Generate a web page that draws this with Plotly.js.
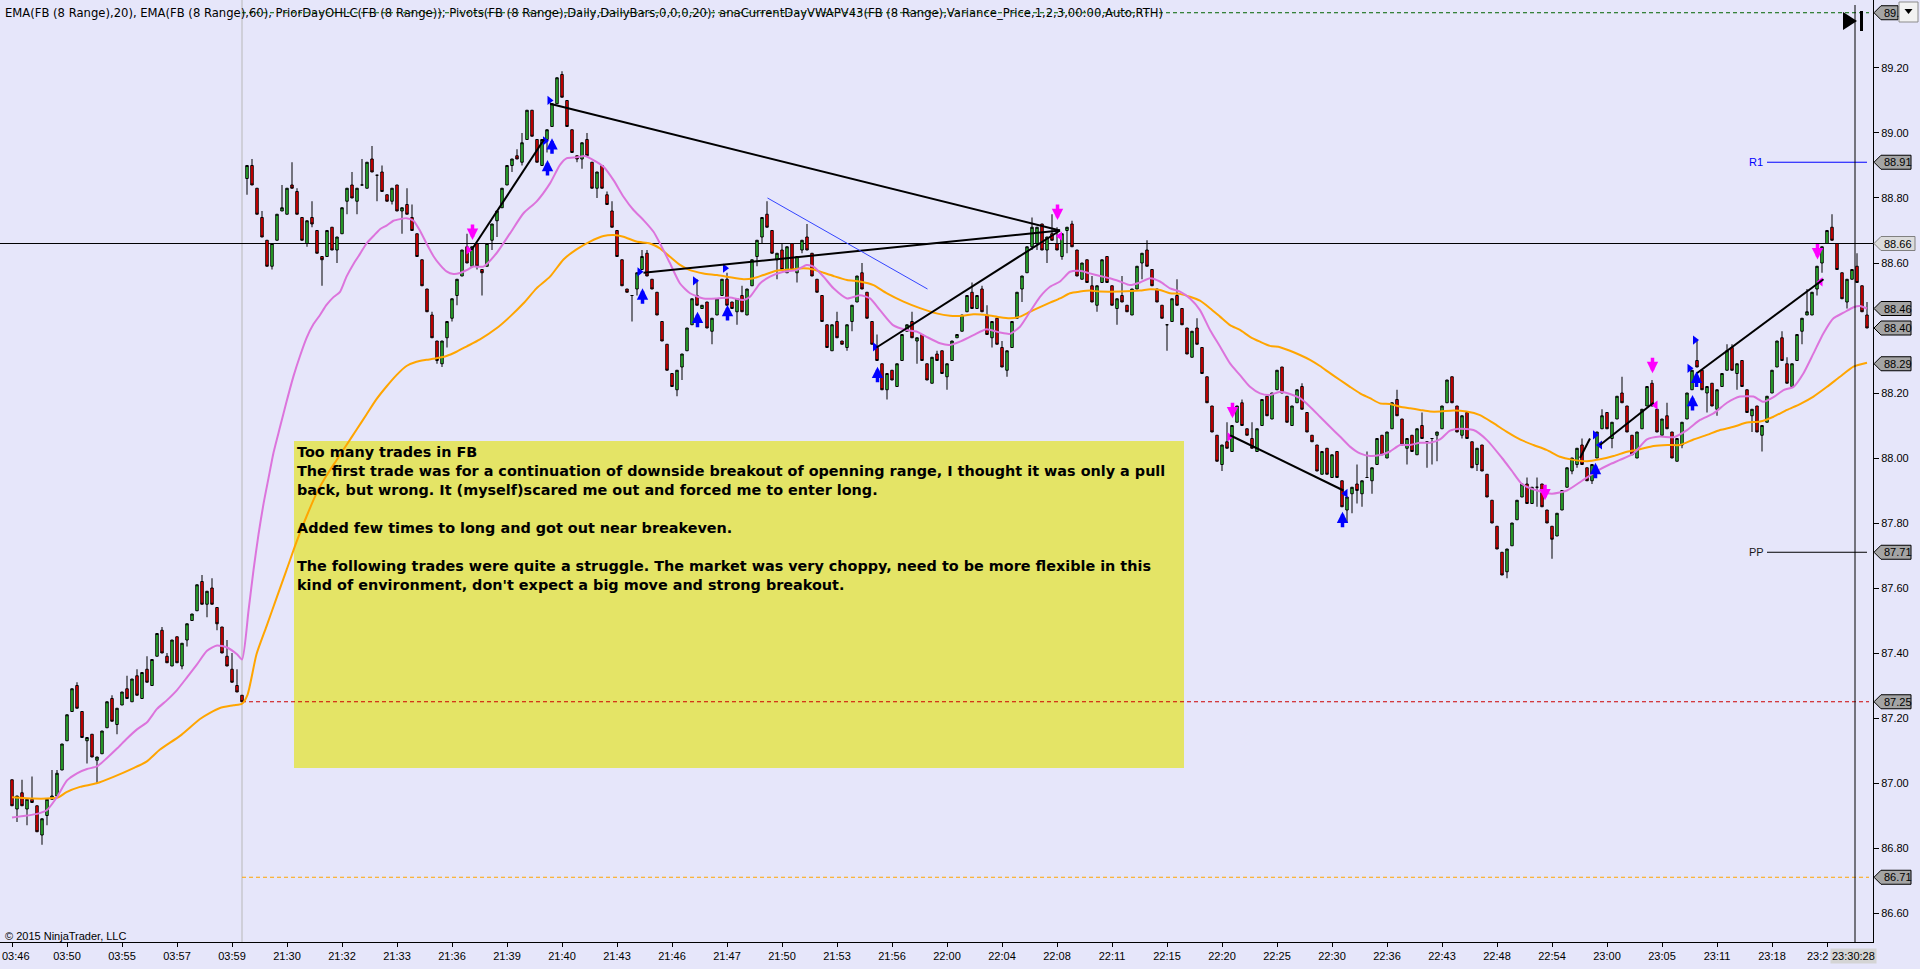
<!DOCTYPE html>
<html><head><meta charset="utf-8">
<script src="https://cdn.plot.ly/plotly-3.0.1.min.js"></script>
<style>html,body{margin:0;padding:0;background:#E6E6FA;}#chart{width:1920px;height:969px;}</style>
</head><body><div id="chart"></div>
<script>
// ---------- DATA ----------
const tickLabels = ['03:46','03:50','03:55','03:57','03:59','21:30','21:32','21:33','21:36','21:39','21:40','21:43','21:46','21:47','21:50','21:53','21:56','22:00','22:04','22:08','22:11','22:15','22:20','22:25','22:30','22:36','22:43','22:48','22:54','23:00','23:05','23:11','23:18','23:2'];
const barsPerTick = 11;

const openP = [
87.01,86.92,86.97,86.92,86.95,86.93,86.84,86.90,86.95,86.96,
87.04,87.13,87.22,87.30,87.22,87.13,87.15,87.07,87.09,87.17,
87.26,87.18,87.24,87.29,87.25,87.33,87.26,87.35,87.30,87.39,
87.47,87.39,87.36,87.45,87.36,87.44,87.50,87.53,87.62,87.55,
87.60,87.54,87.48,87.39,87.35,87.30,87.27,88.86,88.90,88.83,
88.74,88.67,88.59,88.67,88.76,88.75,88.84,88.82,88.74,88.66,
88.74,88.70,88.62,88.62,88.71,88.64,88.69,88.79,88.84,88.79,
88.84,88.83,88.92,88.87,88.88,88.81,88.79,88.84,88.76,88.78,
88.74,88.69,88.61,88.52,88.44,88.36,88.29,88.37,88.43,88.50,
88.56,88.65,88.59,88.66,88.58,88.59,88.67,88.73,88.77,88.84,
88.90,88.93,88.91,88.98,89.07,88.98,88.90,88.98,89.02,89.09,
89.18,89.10,89.01,88.93,88.92,88.98,88.91,88.83,88.90,88.81,
88.76,88.70,88.61,88.52,88.50,88.52,88.58,88.63,88.55,88.51,
88.42,88.35,88.26,88.21,88.28,88.33,88.41,88.50,88.46,88.48,
88.39,88.44,88.50,88.55,88.48,88.45,88.50,88.44,88.53,88.62,
88.68,88.75,88.70,88.61,88.64,88.57,88.66,88.57,88.64,88.68,
88.63,88.55,88.50,88.41,88.33,88.42,88.36,88.34,88.42,88.48,
88.57,88.51,88.42,88.34,88.29,88.21,88.27,88.22,88.30,88.39,
88.42,88.36,88.38,88.29,88.23,88.32,88.33,88.25,88.30,88.37,
88.39,88.45,88.51,88.46,88.52,88.44,88.37,88.43,88.34,88.27,
88.34,88.43,88.52,88.57,88.65,88.66,88.72,88.64,88.69,88.66,
88.62,88.70,88.72,88.64,88.55,88.61,88.53,88.47,88.54,88.62,
88.53,88.46,88.50,88.47,88.44,88.52,88.60,88.64,88.58,88.52,
88.47,88.41,88.42,88.50,88.46,88.40,88.31,88.40,88.34,88.25,
88.16,88.07,87.98,88.05,88.02,88.11,88.17,88.09,88.06,88.02,
88.10,88.19,88.12,88.21,88.28,88.19,88.10,88.17,88.22,88.14,
88.07,88.04,87.95,88.03,87.94,88.02,87.93,87.84,87.89,87.92,
87.89,87.94,87.93,87.98,88.07,88.00,88.09,88.18,88.12,88.03,
88.07,88.01,88.10,88.05,88.06,88.07,88.09,88.17,88.25,88.16,
88.07,88.14,88.05,87.98,88.04,87.95,87.87,87.79,87.71,87.65,
87.73,87.81,87.88,87.92,87.86,87.91,87.92,87.84,87.79,87.76,
87.84,87.91,87.96,87.98,88.04,87.97,87.93,88.00,88.09,88.14,
88.06,88.12,88.20,88.16,88.07,88.00,88.09,88.16,88.23,88.15,
88.07,88.13,88.08,87.99,88.04,88.12,88.21,88.30,88.27,88.20,
88.23,88.15,88.22,88.27,88.34,88.26,88.30,88.21,88.13,88.16,
88.07,88.11,88.20,88.28,88.37,88.29,88.22,88.30,88.39,88.44,
88.44,88.52,88.60,88.66,88.71,88.66,88.57,88.48,88.55,88.59,
88.53,88.44];
const highP = [
87.01,86.96,87.01,86.95,87.02,86.93,86.89,86.95,87.04,87.04,
87.12,87.21,87.29,87.31,87.22,87.14,87.15,87.08,87.16,87.25,
87.27,87.23,87.28,87.33,87.32,87.35,87.34,87.39,87.38,87.46,
87.48,87.40,87.44,87.45,87.43,87.49,87.52,87.61,87.64,87.59,
87.63,87.54,87.48,87.44,87.40,87.35,87.27,88.90,88.92,88.83,
88.76,88.67,88.66,88.75,88.84,88.83,88.91,88.83,88.74,88.73,
88.79,88.70,88.62,88.70,88.71,88.68,88.77,88.83,88.88,88.83,
88.92,88.91,88.96,88.87,88.90,88.81,88.83,88.84,88.77,88.83,
88.78,88.69,88.61,88.52,88.45,88.36,88.36,88.42,88.49,88.55,
88.64,88.69,88.65,88.66,88.58,88.66,88.72,88.76,88.83,88.90,
88.92,88.95,89.00,89.07,89.07,88.98,88.98,89.01,89.09,89.17,
89.19,89.10,89.01,88.93,88.97,89.00,88.91,88.88,88.90,88.82,
88.79,88.70,88.61,88.52,88.50,88.57,88.64,88.64,88.55,88.51,
88.42,88.35,88.26,88.27,88.32,88.40,88.49,88.55,88.47,88.48,
88.43,88.49,88.55,88.57,88.48,88.49,88.53,88.52,88.61,88.67,
88.74,88.79,88.70,88.63,88.66,88.65,88.66,88.62,88.67,88.72,
88.63,88.55,88.50,88.41,88.41,88.45,88.36,88.41,88.47,88.56,
88.60,88.51,88.42,88.38,88.29,88.26,88.27,88.29,88.38,88.41,
88.45,88.37,88.38,88.29,88.31,88.33,88.33,88.29,88.36,88.38,
88.44,88.50,88.54,88.50,88.53,88.47,88.42,88.43,88.36,88.33,
88.42,88.51,88.56,88.65,88.74,88.71,88.72,88.68,88.75,88.71,
88.69,88.71,88.73,88.64,88.60,88.61,88.56,88.53,88.61,88.62,
88.53,88.49,88.56,88.47,88.52,88.59,88.63,88.67,88.58,88.52,
88.47,88.41,88.49,88.55,88.46,88.40,88.39,88.43,88.34,88.25,
88.16,88.07,88.04,88.11,88.10,88.16,88.18,88.09,88.11,88.09,
88.18,88.19,88.20,88.27,88.28,88.19,88.16,88.21,88.23,88.14,
88.07,88.04,88.02,88.03,88.01,88.02,87.93,87.88,87.91,87.98,
87.93,88.02,87.97,88.06,88.07,88.08,88.17,88.21,88.12,88.06,
88.07,88.09,88.14,88.05,88.06,88.08,88.16,88.24,88.25,88.16,
88.13,88.14,88.05,88.03,88.04,87.95,87.87,87.79,87.71,87.72,
87.80,87.87,87.92,87.94,87.91,87.94,87.92,87.84,87.79,87.83,
87.90,87.97,88.00,88.03,88.06,87.97,87.98,88.08,88.15,88.14,
88.11,88.19,88.25,88.16,88.07,88.08,88.15,88.22,88.24,88.15,
88.12,88.17,88.08,88.06,88.11,88.20,88.27,88.36,88.27,88.22,
88.23,88.21,88.26,88.35,88.35,88.29,88.30,88.21,88.15,88.16,
88.10,88.19,88.27,88.36,88.39,88.31,88.29,88.38,88.43,88.52,
88.51,88.59,88.65,88.70,88.75,88.66,88.57,88.55,88.58,88.63,
88.53,88.48];
const lowP = [
86.93,86.88,86.93,86.87,86.94,86.85,86.81,86.87,86.95,86.96,
87.04,87.13,87.22,87.23,87.14,87.06,87.08,87.00,87.09,87.17,
87.19,87.15,87.24,87.26,87.25,87.27,87.26,87.31,87.30,87.39,
87.40,87.37,87.36,87.37,87.35,87.42,87.50,87.53,87.55,87.51,
87.55,87.47,87.40,87.36,87.31,87.28,87.25,88.81,88.84,88.75,
88.68,88.59,88.58,88.67,88.76,88.75,88.83,88.75,88.67,88.65,
88.71,88.63,88.53,88.62,88.64,88.60,88.69,88.75,88.80,88.75,
88.84,88.83,88.88,88.79,88.82,88.79,88.78,88.76,88.69,88.75,
88.70,88.62,88.53,88.45,88.37,88.29,88.28,88.34,88.42,88.47,
88.56,88.60,88.59,88.58,88.50,88.59,88.64,88.68,88.77,88.84,
88.88,88.92,88.90,88.98,88.99,88.91,88.90,88.94,89.02,89.09,
89.11,89.02,88.94,88.91,88.89,88.93,88.83,88.80,88.83,88.78,
88.71,88.62,88.53,88.51,88.42,88.50,88.58,88.56,88.52,88.44,
88.36,88.27,88.22,88.19,88.24,88.33,88.41,88.47,88.46,88.40,
88.35,88.44,88.50,88.47,88.46,88.41,88.45,88.44,88.53,88.59,
88.66,88.71,88.63,88.55,88.58,88.57,88.58,88.54,88.63,88.64,
88.56,88.51,88.42,88.34,88.33,88.37,88.35,88.33,88.39,88.48,
88.52,88.43,88.35,88.30,88.21,88.18,88.24,88.22,88.30,88.39,
88.37,88.29,88.30,88.24,88.23,88.30,88.26,88.21,88.30,88.37,
88.39,88.45,88.46,88.46,88.45,88.38,88.34,88.35,88.28,88.25,
88.34,88.43,88.48,88.57,88.64,88.64,88.64,88.60,88.67,88.64,
88.61,88.63,88.65,88.56,88.55,88.54,88.48,88.45,88.54,88.54,
88.47,88.41,88.48,88.45,88.44,88.52,88.55,88.59,88.53,88.48,
88.43,88.33,88.42,88.47,88.41,88.32,88.31,88.35,88.26,88.17,
88.08,87.99,87.96,88.03,88.02,88.11,88.10,88.07,88.03,88.02,
88.10,88.13,88.12,88.21,88.20,88.11,88.10,88.17,88.15,88.08,
88.05,87.96,87.95,87.95,87.94,87.94,87.85,87.80,87.83,87.86,
87.85,87.94,87.89,87.98,88.01,88.00,88.09,88.13,88.04,87.98,
88.02,88.01,88.06,87.97,87.98,87.99,88.09,88.17,88.17,88.08,
88.06,88.06,87.97,87.96,87.96,87.88,87.80,87.72,87.64,87.63,
87.73,87.81,87.88,87.86,87.86,87.85,87.85,87.80,87.69,87.76,
87.84,87.91,87.95,87.97,87.98,87.93,87.92,88.00,88.09,88.09,
88.03,88.12,88.17,88.08,88.01,88.00,88.09,88.16,88.16,88.08,
88.07,88.09,88.00,87.99,88.03,88.12,88.21,88.28,88.21,88.14,
88.16,88.13,88.22,88.27,88.27,88.21,88.22,88.14,88.08,88.08,
88.02,88.11,88.20,88.28,88.30,88.23,88.22,88.30,88.35,88.44,
88.44,88.50,88.57,88.66,88.67,88.58,88.49,88.46,88.55,88.54,
88.45,88.40];
const closeP = [
86.93,86.96,86.93,86.95,86.94,86.85,86.89,86.95,86.96,87.03,
87.12,87.21,87.29,87.23,87.14,87.14,87.08,87.08,87.16,87.25,
87.19,87.23,87.28,87.26,87.32,87.27,87.34,87.31,87.38,87.46,
87.40,87.37,87.44,87.37,87.43,87.49,87.52,87.61,87.55,87.59,
87.55,87.49,87.40,87.36,87.31,87.28,87.25,88.90,88.84,88.75,
88.68,88.59,88.66,88.75,88.77,88.83,88.83,88.75,88.67,88.73,
88.72,88.63,88.61,88.70,88.64,88.68,88.77,88.83,88.80,88.83,
88.84,88.91,88.88,88.87,88.82,88.79,88.83,88.76,88.77,88.75,
88.70,88.62,88.53,88.45,88.37,88.30,88.36,88.42,88.49,88.55,
88.64,88.60,88.65,88.59,88.57,88.66,88.72,88.76,88.83,88.90,
88.92,88.92,88.97,89.07,88.99,88.91,88.98,89.01,89.09,89.17,
89.11,89.02,88.94,88.92,88.97,88.93,88.83,88.88,88.83,88.78,
88.71,88.62,88.53,88.51,88.50,88.57,88.62,88.56,88.52,88.44,
88.36,88.27,88.22,88.27,88.32,88.40,88.49,88.47,88.47,88.40,
88.43,88.49,88.55,88.47,88.46,88.49,88.45,88.52,88.61,88.67,
88.74,88.71,88.63,88.63,88.58,88.65,88.58,88.62,88.67,88.64,
88.56,88.51,88.42,88.34,88.41,88.37,88.35,88.41,88.47,88.56,
88.52,88.43,88.35,88.30,88.21,88.26,88.24,88.29,88.38,88.41,
88.37,88.37,88.30,88.24,88.31,88.30,88.26,88.29,88.36,88.38,
88.44,88.50,88.46,88.50,88.45,88.38,88.42,88.35,88.28,88.33,
88.42,88.51,88.56,88.65,88.71,88.71,88.64,88.68,88.67,88.64,
88.69,88.71,88.65,88.56,88.60,88.54,88.48,88.53,88.61,88.54,
88.47,88.49,88.48,88.45,88.52,88.59,88.63,88.59,88.53,88.48,
88.43,88.41,88.49,88.47,88.41,88.32,88.39,88.35,88.26,88.17,
88.08,87.99,88.04,88.03,88.10,88.16,88.10,88.07,88.03,88.09,
88.18,88.13,88.20,88.27,88.20,88.11,88.16,88.21,88.15,88.08,
88.05,87.96,88.02,87.95,88.01,87.94,87.85,87.88,87.91,87.90,
87.93,87.94,87.97,88.06,88.01,88.08,88.17,88.13,88.04,88.06,
88.02,88.09,88.06,88.05,88.06,88.08,88.16,88.24,88.17,88.08,
88.13,88.06,87.97,88.03,87.96,87.88,87.80,87.72,87.64,87.72,
87.80,87.87,87.92,87.86,87.91,87.91,87.85,87.80,87.75,87.83,
87.90,87.97,88.00,88.03,87.98,87.93,87.98,88.08,88.13,88.09,
88.11,88.19,88.17,88.08,88.01,88.08,88.15,88.22,88.16,88.08,
88.12,88.09,88.00,88.06,88.11,88.20,88.27,88.28,88.21,88.22,
88.16,88.21,88.26,88.33,88.27,88.29,88.22,88.14,88.15,88.08,
88.10,88.19,88.27,88.36,88.30,88.23,88.29,88.38,88.43,88.45,
88.51,88.59,88.65,88.70,88.67,88.58,88.49,88.55,88.58,88.54,
88.45,88.40];

// EMA(20): bar position / value
const emaFastK = [0,5,7,9,11,13,15,17,19,21,23,25,27,29,31,33,35,37,39,41,43,45,46,47.3,48.3,49.3,50.3,51.3,52.3,53.6,54.9,56.3,57.6,58.9,60.3,61.6,62.9,64.3,65.6,66.9,68.3,69.6,70.9,72.3,73.6,74.9,76.3,77.6,78.9,80.3,81.6,82.9,84.3,85.6,86.9,88.3,89.6,90.9,92.3,94.3,96.9,99.6,102.3,104.9,107.6,109.6,110.9,112.9,114.6,116.2,118.3,120.3,122.3,124.3,126.3,128.3,129.6,131.6,133.6,135.6,138.3,141,143.6,146.3,147.6,149.6,151.6,154.3,156.9,158.9,160.3,162.3,164.3,167,169.6,171.6,173.6,176.2,178.9,180.9,182.9,185.6,187.6,189.6,192.3,194.9,197.6,199.6,201.6,203.6,205.6,207.6,209.6,211.6,213.6,215.6,217.6,219.6,221.6,223.6,225.6,227.6,229.6,231.6,233.6,235.6,237.6,239.6,241.6,243.6,245.6,247.6,249.6,251.6,253.6,255.6,257.6,259.6,261.6,263.6,265.6,267.6,269.6,271.6,273.6,275.6,277.6,279.6,281.6,283.6,285.6,287.6,289.6,292.3,295,298,300,302,305,308,311,314,317,319.5,321.6,324.3,327,329.6,332.3,335,337.6,340.3,343,345.6,348.3,350.3,352.3,354.3,356.3,358.3,360.3,362.3,364.3,366.3,368.3,369.6,371];
const emaFastV = [86.894,86.905,86.917,86.957,87.008,87.030,87.043,87.051,87.077,87.106,87.137,87.165,87.187,87.228,87.255,87.286,87.325,87.365,87.407,87.423,87.417,87.396,87.380,87.530,87.655,87.765,87.859,87.938,88.016,88.095,88.173,88.252,88.314,88.369,88.412,88.440,88.471,88.495,88.511,88.558,88.597,88.628,88.660,88.683,88.704,88.715,88.730,88.735,88.738,88.730,88.699,88.660,88.621,88.594,88.574,88.566,88.569,88.578,88.589,88.589,88.630,88.691,88.753,88.789,88.845,88.902,88.922,88.925,88.929,88.917,88.896,88.855,88.804,88.763,88.732,88.696,88.660,88.599,88.537,88.507,88.491,88.491,88.494,88.486,88.496,88.537,88.558,88.573,88.578,88.594,88.589,88.558,88.522,88.491,88.501,88.491,88.455,88.409,88.394,88.389,88.373,88.353,88.348,88.358,88.378,88.396,88.386,88.382,88.404,88.450,88.496,88.527,88.543,88.573,88.576,88.568,88.560,88.553,88.543,88.532,88.540,88.553,88.543,88.522,88.512,88.491,88.455,88.394,88.343,88.291,88.255,88.219,88.199,88.194,88.204,88.197,88.184,88.158,88.127,88.096,88.066,88.035,88.014,88.006,88.009,88.020,88.040,88.040,88.047,88.047,88.057,88.084,88.090,88.086,88.055,88.000,87.960,87.920,87.900,87.890,87.900,87.930,87.960,87.980,87.994,88.014,88.057,88.066,88.064,88.086,88.117,88.137,88.170,88.189,88.189,88.173,88.187,88.209,88.219,88.261,88.322,88.384,88.430,88.447,88.464,88.468,88.460];
// EMA(60)
const emaSlowK = [0,4.3,6.9,9.3,10.9,13.6,16.9,20.3,24.3,26.9,29.6,33.6,37.6,39.6,41.6,44.3,46,47.1,48.9,50.9,52.9,54.9,56.9,58.9,60.9,62.9,64.9,66.9,68.9,70.9,72.9,74.9,76.9,78.9,80.9,82.9,84.9,86.9,88.9,90.9,93.6,96.9,99.6,102.3,104.9,107.6,110.3,112.9,115.6,118.3,120.3,122.3,124.9,127.6,129.6,131.6,133.6,135.6,138.3,141,143.6,146.3,148.3,150.3,152.9,155.6,158.3,160.3,162.3,164.3,167,169.6,172.3,174.9,178.3,181.6,184.9,187.6,190.2,192.3,194.9,197.6,199.6,201.6,203.6,205.6,207.6,209.6,211.6,213.6,215.6,217.6,221.6,225.6,227.6,229.6,231.6,233.6,235.6,237.6,239.6,241.6,243.6,245.6,247.6,249.6,251.6,253.6,255.6,257.6,259.6,261.6,263.6,265.6,267.6,269.6,271.6,273.6,275.6,277.6,279.6,281.6,283.6,285.6,288.3,290.9,293.6,296.3,298.9,301.6,304.3,306.9,309.6,312,315,317.6,320.3,323,325.6,328.3,331.1,333.6,336.3,339,341.6,344.3,347,349.6,352.3,355,357.6,360.3,363,365.6,368.3,371];
const emaSlowV = [86.956,86.952,86.952,86.956,86.972,86.988,86.999,87.019,87.046,87.066,87.103,87.145,87.197,87.216,87.231,87.239,87.244,87.271,87.396,87.482,87.569,87.655,87.742,87.820,87.891,87.946,87.993,88.040,88.087,88.134,88.181,88.220,88.255,88.283,88.296,88.302,88.307,88.314,88.327,88.343,88.365,88.399,88.435,88.476,88.522,88.558,88.611,88.642,88.666,88.683,88.686,88.681,88.666,88.660,88.645,88.619,88.594,88.578,88.568,88.563,88.556,88.550,88.553,88.563,88.576,88.580,88.584,88.580,88.570,88.560,88.548,88.543,88.532,88.507,88.481,88.461,88.445,88.438,88.438,88.442,88.440,88.433,88.430,88.435,88.450,88.464,88.478,88.491,88.507,88.512,88.515,88.512,88.512,88.515,88.519,88.517,88.507,88.505,88.496,88.484,88.461,88.435,88.409,88.394,88.373,88.358,88.345,88.341,88.330,88.317,88.302,88.283,88.261,88.240,88.219,88.199,88.184,88.168,88.166,88.158,88.153,88.148,88.143,88.143,88.146,88.143,88.132,88.107,88.081,88.057,88.040,88.025,88.004,87.995,87.990,87.996,88.006,88.019,88.027,88.037,88.040,88.040,88.057,88.071,88.086,88.096,88.109,88.112,88.127,88.148,88.166,88.189,88.219,88.250,88.281,88.293];

// levels
const priorDayHigh = 89.37, priorDayLow = 86.71, priorDayClose = 87.25;
const pivotR1 = 88.91, pivotPP = 87.71;
const refLine = 88.66;
const sessionStartBar = 46;
const cursorBar = 368.6;
const levelEndBar = 371.4;
const pivotStartBar = 351;
const priceLabels = [89.37, 88.91, 88.66, 88.46, 88.40, 88.29, 87.71, 87.25, 86.71];
const priceLabelText = ['89.', '88.91', '88.66', '88.46', '88.40', '88.29', '87.71', '87.25', '86.71'];
const yTicks = [86.6,86.8,87.0,87.2,87.4,87.6,87.8,88.0,88.2,88.4,88.6,88.8,89.0,89.2];

// drawn trend lines [bar0, price0, bar1, price1]
const trendLines = [
  [91.9,88.64,106.4,88.98],
  [107.6,89.09,209.6,88.70],
  [126.3,88.57,209.6,88.70],
  [172.9,88.34,209.6,88.70],
  [243.6,88.07,266.3,87.90],
  [313.6,88.00,315.6,88.06],
  [317.6,88.04,328.3,88.17],
  [336.9,88.26,362.3,88.55]
];
const blueLine = [151.1,88.80,183.1,88.52];

// trade markers
const buyArrowK = [107.1,108,126.1,137.1,143.1,173.1,266.1,316.7,336.9,336.1];
const buyArrowP = [88.917,88.984,88.522,88.450,88.471,88.281,87.835,87.985,88.266,88.194];
const sellArrowK = [92.1,209.1,244.1,306.6,328.1,361.1];
const sellArrowP = [88.671,88.732,88.122,87.87,88.261,88.611];
const buyTriRK = [106.6,107.5,125.5,136.6,142.6,172.6,316.6,335.5,336.6];
const buyTriRP = [88.976,89.10,88.573,88.545,88.584,88.342,88.071,88.276,88.363];
const buyTriLK = [266.7,317.6];
const buyTriLP = [87.891,88.04];
const sellTriRK = [91.3,243.5];
const sellTriRP = [88.64,88.065];
const sellTriLK = [209.6,328.7,361.7];
const sellTriLP = [88.683,88.163,88.542];

const indicatorText = "EMA(FB (8 Range),20), EMA(FB (8 Range),60), PriorDayOHLC(FB (8 Range)); Pivots(FB (8 Range),Daily,DailyBars,0,0,0,20); anaCurrentDayVWAPV43(FB (8 Range),Variance_Price,1,2,3,00:00,Auto,RTH)";
const noteLines = [
  "Too many trades in FB",
  "The first trade was for a continuation of downside breakout of openning range, I thought it was only a pull",
  "back, but wrong. It (myself)scared me out and forced me to enter long.",
  "",
  "Added few times to long and got out near breakeven.",
  "",
  "The following trades were quite a struggle. The market was very choppy, need to be more flexible in this",
  "kind of environment, don't expect a big move and strong breakout."
];
const lastTimeLabel = "23:30:28";
const copyright = "\u00A9 2015 NinjaTrader, LLC";

// ---------- BUILD ----------
const W = 1873, H = 942;           // plot area in pixels
const px = x => x / W;
const py = y => 1 - y / H;
const idx = openP.map((_, i) => i);
const tickVals = tickLabels.map((_, i) => i * barsPerTick);
const lastTick = tickLabels.length - 1;
const axisTickText = tickLabels.map((t, i) => (i === lastTick || i === 0) ? '' : t);

const traces = [];
traces.push({
  type: 'candlestick', x: idx, open: openP, high: highP, low: lowP, close: closeP,
  increasing: {line: {color: '#000', width: 1}, fillcolor: '#33CC33'},
  decreasing: {line: {color: '#000', width: 1}, fillcolor: '#FF0000'},
  whiskerwidth: 0, hoverinfo: 'skip', showlegend: false
});
traces.push({type: 'scatter', mode: 'lines', x: emaSlowK, y: emaSlowV, line: {color: '#FFA500', width: 2, shape: 'spline', smoothing: 0.6}, hoverinfo: 'skip', showlegend: false});
traces.push({type: 'scatter', mode: 'lines', x: emaFastK, y: emaFastV, line: {color: '#DC74DC', width: 2, shape: 'spline', smoothing: 0.6}, hoverinfo: 'skip', showlegend: false});
function tri(k, p, sym, col) {
  return {type: 'scatter', mode: 'markers', x: k, y: p, marker: {symbol: sym, size: 8, color: col, line: {width: 0}}, hoverinfo: 'skip', showlegend: false, cliponaxis: false};
}
traces.push(tri(buyTriRK, buyTriRP, 'triangle-right', '#0000FF'));
traces.push(tri(buyTriLK, buyTriLP, 'triangle-left', '#0000FF'));
traces.push(tri(sellTriRK, sellTriRP, 'triangle-right', '#FF00FF'));
traces.push(tri(sellTriLK, sellTriLP, 'triangle-left', '#FF00FF'));

const shapes = [];
shapes.push({type: 'line', xref: 'x', yref: 'paper', x0: sessionStartBar, x1: sessionStartBar, y0: 0, y1: 1, line: {color: '#B8B8B8', width: 1}, layer: 'below'});
shapes.push({type: 'line', xref: 'paper', yref: 'y', x0: 0, x1: 1, y0: refLine, y1: refLine, line: {color: '#000', width: 1}, layer: 'below'});
shapes.push({type: 'line', xref: 'x', yref: 'y', x0: sessionStartBar, x1: levelEndBar, y0: priorDayHigh, y1: priorDayHigh, line: {color: '#006400', width: 1, dash: '4px,3px'}, layer: 'below'});
shapes.push({type: 'line', xref: 'x', yref: 'y', x0: sessionStartBar, x1: levelEndBar, y0: priorDayClose, y1: priorDayClose, line: {color: '#CC0000', width: 1, dash: '4px,3px'}, layer: 'below'});
shapes.push({type: 'line', xref: 'x', yref: 'y', x0: sessionStartBar, x1: levelEndBar, y0: priorDayLow, y1: priorDayLow, line: {color: '#FFA500', width: 1, dash: '4px,3px'}, layer: 'below'});
shapes.push({type: 'line', xref: 'x', yref: 'y', x0: pivotStartBar, x1: levelEndBar - 0.4, y0: pivotR1, y1: pivotR1, line: {color: '#0000FF', width: 1}, layer: 'below'});
shapes.push({type: 'line', xref: 'x', yref: 'y', x0: pivotStartBar, x1: levelEndBar - 0.4, y0: pivotPP, y1: pivotPP, line: {color: '#000', width: 1}, layer: 'below'});
shapes.push({type: 'rect', xref: 'paper', yref: 'paper', x0: px(294), x1: px(1184), y0: py(768), y1: py(441), fillcolor: '#E4E466', line: {width: 0}, layer: 'below'});
shapes.push({type: 'line', xref: 'x', yref: 'paper', x0: cursorBar, x1: cursorBar, y0: 0, y1: py(5), line: {color: '#000', width: 1}, layer: 'above'});
trendLines.forEach(t => shapes.push({type: 'line', xref: 'x', yref: 'y', x0: t[0], y0: t[1], x1: t[2], y1: t[3], line: {color: '#000', width: 2}, layer: 'above'}));
shapes.push({type: 'line', xref: 'x', yref: 'y', x0: blueLine[0], y0: blueLine[1], x1: blueLine[2], y1: blueLine[3], line: {color: '#3344FF', width: 1}, layer: 'above'});
const halfH = 7 / 325;
priceLabels.forEach(p => {
  const hi = (p === refLine);
  const xr = hi ? px(1915) : (p === priorDayHigh ? px(1898) : px(1911));
  const path = `M${px(1874)},${p} L${px(1881)},${p + halfH} L${xr},${p + halfH} L${xr},${p - halfH} L${px(1881)},${p - halfH} Z`;
  shapes.push({type: 'path', xref: 'paper', yref: 'y', path: path, fillcolor: hi ? '#DCDCDC' : '#A4A4A4', line: {color: hi ? '#808080' : '#000', width: 1}, layer: 'above'});
});
shapes.push({type: 'path', xref: 'paper', yref: 'paper', path: `M${px(1843)},${py(12)} L${px(1857)},${py(21)} L${px(1843)},${py(30)} Z`, fillcolor: '#000', line: {width: 0}});
shapes.push({type: 'rect', xref: 'paper', yref: 'paper', x0: px(1860), x1: px(1863), y0: py(31), y1: py(11), fillcolor: '#000', line: {width: 0}});
shapes.push({type: 'rect', xref: 'paper', yref: 'paper', x0: px(1899), x1: px(1918), y0: py(22), y1: py(2), fillcolor: '#F2F2F2', line: {color: '#8C8C8C', width: 1}});
shapes.push({type: 'path', xref: 'paper', yref: 'paper', path: `M${px(1904.5)},${py(9)} L${px(1912.5)},${py(9)} L${px(1908.5)},${py(14)} Z`, fillcolor: '#000', line: {width: 0}});

const ann = [];
const axFont = {family: 'Liberation Sans, Arial', size: 11, color: '#000'};
ann.push({xref: 'paper', yref: 'paper', x: px(3), y: py(13), xanchor: 'left', yanchor: 'middle', text: indicatorText, showarrow: false, font: {family: 'DejaVu Sans, Verdana', size: 11.6, color: '#000'}});
ann.push({xref: 'paper', yref: 'paper', x: px(3), y: py(936), xanchor: 'left', yanchor: 'middle', text: copyright, showarrow: false, font: axFont});
noteLines.forEach((t, i) => {
  if (!t) return;
  ann.push({xref: 'paper', yref: 'paper', x: px(295), y: py(452 + 19 * i), xanchor: 'left', yanchor: 'middle', text: '<b>' + t + '</b>', showarrow: false, font: {family: 'DejaVu Sans, Verdana', size: 14.4, color: '#000'}});
});
ann.push({xref: 'x', yref: 'y', x: pivotStartBar, y: pivotR1, xanchor: 'right', yanchor: 'middle', text: 'R1', showarrow: false, font: {family: 'Liberation Sans, Arial', size: 11, color: '#0000FF'}, xshift: -2});
ann.push({xref: 'x', yref: 'y', x: pivotStartBar, y: pivotPP, xanchor: 'right', yanchor: 'middle', text: 'PP', showarrow: false, font: {family: 'Liberation Sans, Arial', size: 11, color: '#1A1A1A'}, xshift: -1});
priceLabels.forEach((p, i) => {
  ann.push({xref: 'paper', yref: 'y', x: px(1881), y: p, xanchor: 'left', yanchor: 'middle', text: priceLabelText[i], showarrow: false, font: axFont, xshift: 1});
});
ann.push({xref: 'paper', yref: 'paper', x: 0, y: py(956), xanchor: 'left', yanchor: 'middle', text: tickLabels[0], showarrow: false, font: axFont});
ann.push({xref: 'paper', yref: 'paper', x: px(1830), y: py(956), xanchor: 'right', yanchor: 'middle', text: tickLabels[lastTick], showarrow: false, font: axFont});
ann.push({xref: 'paper', yref: 'paper', x: px(1877), y: py(956), xanchor: 'right', yanchor: 'middle', text: lastTimeLabel, showarrow: false, bgcolor: '#D4D4D4', borderpad: 1, font: axFont});
buyArrowK.forEach((k, i) => ann.push({xref: 'x', yref: 'y', x: k, y: buyArrowP[i], ax: 0, ay: 17, text: '', showarrow: true, arrowhead: 2, arrowsize: 0.65, arrowwidth: 3.5, arrowcolor: '#0000FF', standoff: 0}));
sellArrowK.forEach((k, i) => ann.push({xref: 'x', yref: 'y', x: k, y: sellArrowP[i], ax: 0, ay: -17, text: '', showarrow: true, arrowhead: 2, arrowsize: 0.65, arrowwidth: 3.5, arrowcolor: '#FF00FF', standoff: 0}));

const layout = {
  width: 1920, height: 969,
  margin: {l: 0, r: 47, t: 0, b: 27, pad: 0},
  paper_bgcolor: '#E6E6FA', plot_bgcolor: '#E6E6FA',
  showlegend: false, dragmode: false,
  font: axFont,
  xaxis: {
    range: [-2.4, 372.2], tickvals: tickVals, ticktext: axisTickText,
    showgrid: false, zeroline: false, showline: true, linecolor: '#000', linewidth: 1,
    ticks: 'outside', ticklen: 4, tickcolor: '#000', tickfont: {size: 11, color: '#000'},
    rangeslider: {visible: false}, fixedrange: true
  },
  yaxis: {
    range: [86.5108, 89.4092], side: 'right', tickvals: yTicks, ticktext: yTicks.map(v => v.toFixed(2)),
    showgrid: false, zeroline: false, showline: true, linecolor: '#000', linewidth: 1,
    ticks: 'outside', ticklen: 5, tickcolor: '#000', tickfont: {size: 11, color: '#000'}, fixedrange: true
  },
  shapes: shapes, annotations: ann
};
Plotly.newPlot('chart', traces, layout, {displayModeBar: false, staticPlot: true});
</script></body></html>
